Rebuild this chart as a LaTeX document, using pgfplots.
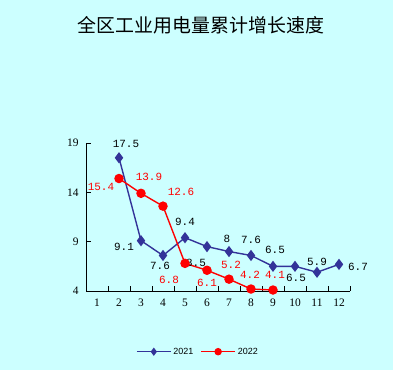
\documentclass[border=0pt]{standalone}
\usepackage{fontspec}
\setmainfont{Liberation Serif}
\setmonofont{Liberation Mono}
\setsansfont{Liberation Sans}
\newfontfamily\cjk{Noto Sans CJK SC}
\usepackage{pgfplots}
\pgfplotsset{compat=1.18}
\definecolor{bg}{HTML}{CCFFFF}
\definecolor{navy}{HTML}{333399}
\definecolor{rd}{HTML}{FF0000}
\begin{document}
\begin{tikzpicture}[x=1bp,y=1bp]
\fill[bg] (0,0) rectangle (393,370);
\node[font=\cjk\fontsize{19}{19}\selectfont] at (201,345) {全区工业用电量累计增长速度};
\begin{axis}[
  at={(86bp,79bp)}, anchor=south west,
  scale only axis, width=264bp, height=148bp,
  xmin=0.5, xmax=12.5, ymin=4, ymax=19,
  axis x line*=bottom, axis y line*=left,
  axis line style={-, black, line width=0.8pt},
  tick align=inside,
  ytick={4,9,14,19},
  major tick length=5bp,
  xtick={0.5,1.5,...,12.5}, xticklabels={},
  extra x ticks={1,2,...,12},
  extra x tick style={major tick length=0pt},
  /pgf/number format/assume math mode=true,
  tick label style={font=\fontsize{11.5}{13}\selectfont},
  x tick label style={yshift=-4bp},
  y tick label style={xshift=-4bp},
  tick style={black, line width=0.6pt},
  clip=false,
  legend style={at={(0.424,-0.41)}, anchor=center, legend columns=2, draw=none, fill=none,
    font=\sffamily\fontsize{9}{10}\selectfont,
    /tikz/every even column/.append style={column sep=5bp}},
  legend image code/.code={\draw[mark repeat=2, mark phase=2, #1, mark size=3bp] plot coordinates {(0bp,0bp) (17bp,0bp) (34bp,0bp)};},
  nodes near coords,
  visualization depends on={value \thisrow{dx}\as\dx},
  visualization depends on={value \thisrow{dy}\as\dy},
  every node near coord/.append style={anchor=center, xshift=\dx bp, yshift=\dy bp, font=\ttfamily\fontsize{11}{11}\selectfont},
]
\addplot[navy, line width=1.4pt, mark=diamond*, mark size=4.5bp, mark options={solid, fill=navy},
  every node near coord/.append style={text=black}] table {
x y dx dy
2 17.5 7 14
3 9.1 -17 -6
4 7.6 -3 -10
5 9.4 0 16
6 8.5 -11 -16
7 8 -2 13
8 7.6 0 16
9 6.5 2 16
10 6.5 1 -12
11 5.9 0 10
12 6.7 19 -3
};
\addlegendentry{2021}
\addplot[rd, line width=1.4pt, mark=*, mark size=4bp, mark options={solid, fill=rd},
  every node near coord/.append style={text=rd}] table {
x y dx dy
2 15.4 -18 -8
3 13.9 8 16
4 12.6 18 14
5 6.8 -16 -17
6 6.1 0 -13
7 5.2 2 14
8 4.2 -1 14
9 4.1 2 15
};
\addlegendentry{2022}
\end{axis}
\end{tikzpicture}
\end{document}
